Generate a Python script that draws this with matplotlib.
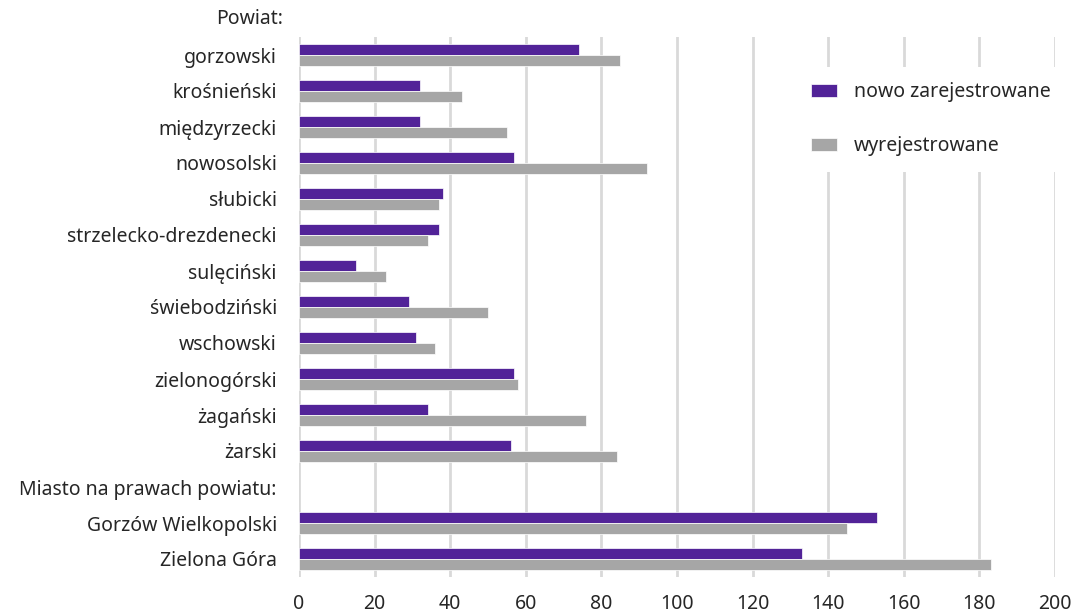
import matplotlib
matplotlib.use("Agg")
import matplotlib.pyplot as plt
import matplotlib.transforms as mtransforms
import numpy as np

plt.rcParams['font.family'] = ['Noto Sans', 'DejaVu Sans']

categories = ["gorzowski", "krośnieński", "międzyrzecki", "nowosolski", "słubicki",
              "strzelecko-drezdenecki", "sulęciński", "świebodziński", "wschowski",
              "zielonogórski", "żagański", "żarski", "Miasto na prawach powiatu:",
              "Gorzów Wielkopolski", "Zielona Góra"]
header_top = "Powiat:"
nowo = [74, 32, 32, 57, 38, 37, 15, 29, 31, 57, 34, 56, None, 153, 133]
wyrej = [85, 43, 55, 92, 37, 34, 23, 50, 36, 58, 76, 84, None, 145, 183]
xticks = [0, 20, 40, 60, 80, 100, 120, 140, 160, 180, 200]
series_names = ["nowo zarejestrowane", "wyrejestrowane"]

purple = "#522398"
gray = "#a6a6a6"
text_color = "#262626"
fs = 14

fig = plt.figure(figsize=(10.74, 6.13), dpi=100)
ax = fig.add_axes([299/1074, 1 - 577/613, (1055-299)/1074, (577-37)/613])

y = np.arange(len(categories))
h = 0.30
nv = [np.nan if v is None else v for v in nowo]
wv = [np.nan if v is None else v for v in wyrej]
ax.barh(y - h/2, nv, height=h, color=purple, edgecolor="#ffffff", linewidth=0.5,
        label=series_names[0], zorder=3)
ax.barh(y + h/2, wv, height=h, color=gray, edgecolor="#ffffff", linewidth=0.5,
        label=series_names[1], zorder=3)

ax.set_ylim(len(categories) - 0.5, -0.5)
ax.set_xlim(0, 200)
ax.set_xticks(xticks)
ax.set_xticklabels([str(t) for t in xticks], fontsize=fs, color=text_color)
ax.set_yticks(y)
ax.set_yticklabels(categories, fontsize=fs, color=text_color)
ax.tick_params(axis='both', length=0)
ax.tick_params(axis='y', pad=16)
ax.tick_params(axis='x', pad=12)

trans = mtransforms.blended_transform_factory(ax.transAxes, ax.transData)
ax.text(-16/756, -1, header_top, transform=trans, ha='right', va='center',
        fontsize=fs, color=text_color, clip_on=False)

ax.grid(axis='x', color="#d9d9d9", linewidth=2, zorder=0)
ax.grid(axis='y', visible=False)
for s in ax.spines.values():
    s.set_visible(False)

leg = ax.legend(loc='upper left', bbox_to_anchor=((786-299)/756, 1 - (57-37)/540),
                frameon=True, fontsize=fs, handlelength=1.3, handleheight=0.7,
                labelspacing=1.75, borderpad=0.8, handletextpad=0.9,
                labelcolor=text_color)
leg.get_frame().set_facecolor('white')
leg.get_frame().set_edgecolor('none')
leg.get_frame().set_alpha(1)
leg.set_zorder(5)

fig.savefig("out.png", dpi=100)
